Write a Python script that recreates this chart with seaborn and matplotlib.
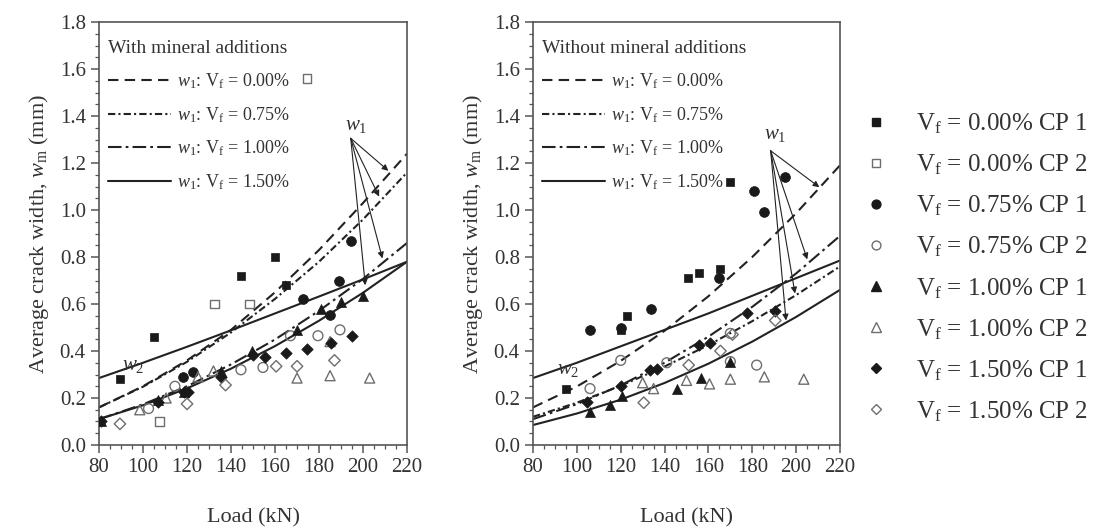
import matplotlib
matplotlib.use("Agg")
import matplotlib.pyplot as plt
import seaborn as sns
from matplotlib.lines import Line2D
from matplotlib.ticker import MultipleLocator, FormatStrFormatter

# model curves (read at every 20 kN)
load_grid = [80, 100, 120, 140, 160, 180, 200, 220]

w2_with = [0.285, 0.35, 0.418, 0.488, 0.56, 0.632, 0.705, 0.78]
w1_with_000 = [0.16, 0.25, 0.36, 0.49, 0.65, 0.83, 1.03, 1.24]
w1_with_075 = [0.16, 0.248, 0.354, 0.479, 0.622, 0.78, 0.96, 1.16]
w1_with_100 = [0.11, 0.173, 0.25, 0.343, 0.449, 0.571, 0.707, 0.86]
w1_with_150 = [0.11, 0.169, 0.241, 0.325, 0.421, 0.529, 0.648, 0.78]

w2_without = [0.285, 0.35, 0.42, 0.49, 0.56, 0.635, 0.71, 0.785]
w1_without_000 = [0.16, 0.249, 0.358, 0.486, 0.633, 0.80, 0.986, 1.19]
w1_without_075 = [0.12, 0.18, 0.252, 0.334, 0.425, 0.527, 0.638, 0.76]
w1_without_100 = [0.11, 0.174, 0.254, 0.35, 0.461, 0.588, 0.73, 0.89]
w1_without_150 = [0.085, 0.134, 0.193, 0.264, 0.346, 0.44, 0.545, 0.66]

# measured points, with mineral additions
with_000_cp1_x = [89.5, 105, 144.5, 160, 165]
with_000_cp1_y = [0.28, 0.46, 0.72, 0.80, 0.68]
with_000_cp2_x = [107.5, 132.5, 148.5, 174.5]
with_000_cp2_y = [0.10, 0.60, 0.60, 1.56]
with_075_cp1_x = [118, 122.5, 172.5, 185, 189, 194.5]
with_075_cp1_y = [0.29, 0.31, 0.62, 0.555, 0.70, 0.87]
with_075_cp2_x = [102.5, 114.5, 144.5, 154.5, 167, 179.5, 189.5]
with_075_cp2_y = [0.155, 0.25, 0.32, 0.33, 0.465, 0.465, 0.49]
with_100_cp1_x = [81, 107, 118.5, 135.5, 149.5, 170, 181, 190, 200]
with_100_cp1_y = [0.10, 0.19, 0.225, 0.315, 0.40, 0.49, 0.58, 0.61, 0.635]
with_100_cp2_x = [98.5, 110.5, 125, 132, 170, 185, 185, 203]
with_100_cp2_y = [0.15, 0.20, 0.29, 0.315, 0.285, 0.295, 0.44, 0.285]
with_150_cp1_x = [81, 107, 118.5, 120.5, 135.5, 150, 155.5, 165, 174.5, 185.5, 195]
with_150_cp1_y = [0.10, 0.185, 0.225, 0.225, 0.29, 0.385, 0.375, 0.39, 0.41, 0.435, 0.465]
with_150_cp2_x = [89.5, 120, 137.5, 160.5, 170, 187]
with_150_cp2_y = [0.09, 0.175, 0.255, 0.335, 0.335, 0.36]

# measured points, without mineral additions
without_000_cp1_x = [95, 120, 123, 150.5, 155.5, 165.5, 170]
without_000_cp1_y = [0.24, 0.49, 0.55, 0.71, 0.73, 0.75, 1.12]
without_000_cp2_x = []
without_000_cp2_y = []
without_075_cp1_x = [106, 120, 134, 165, 181, 185.5, 195]
without_075_cp1_y = [0.49, 0.50, 0.58, 0.71, 1.08, 0.99, 1.14]
without_075_cp2_x = [106, 120, 141, 170, 170, 182]
without_075_cp2_y = [0.24, 0.36, 0.35, 0.475, 0.355, 0.34]
without_100_cp1_x = [106, 115, 120.5, 145.5, 156.5, 170]
without_100_cp1_y = [0.14, 0.17, 0.21, 0.24, 0.285, 0.355]
without_100_cp2_x = [130, 135, 150, 160.5, 170, 185.5, 203.5]
without_100_cp2_y = [0.265, 0.24, 0.275, 0.26, 0.28, 0.29, 0.28]
without_150_cp1_x = [104.5, 120, 133.5, 136.5, 155.5, 160.5, 177.5, 190.5]
without_150_cp1_y = [0.185, 0.25, 0.32, 0.325, 0.425, 0.435, 0.56, 0.57]
without_150_cp2_x = [130.5, 151, 165.5, 171, 190.5]
without_150_cp2_y = [0.18, 0.34, 0.40, 0.47, 0.53]

series_labels = ["V$_\\mathrm{f}$ = 0.00% CP 1", "V$_\\mathrm{f}$ = 0.00% CP 2",
                 "V$_\\mathrm{f}$ = 0.75% CP 1", "V$_\\mathrm{f}$ = 0.75% CP 2",
                 "V$_\\mathrm{f}$ = 1.00% CP 1", "V$_\\mathrm{f}$ = 1.00% CP 2",
                 "V$_\\mathrm{f}$ = 1.50% CP 1", "V$_\\mathrm{f}$ = 1.50% CP 2"]
curve_labels = ["$w_1$: V$_\\mathrm{f}$ = 0.00%", "$w_1$: V$_\\mathrm{f}$ = 0.75%",
                "$w_1$: V$_\\mathrm{f}$ = 1.00%", "$w_1$: V$_\\mathrm{f}$ = 1.50%"]

BLACK = "#1a1a1a"
GRAY = "#6e6e6e"
LINE = "#222222"

# marker, filled?, size
marker_specs = [("s", True, 38), ("s", False, 38), ("o", True, 50), ("o", False, 50),
                ("^", True, 52), ("^", False, 52), ("D", True, 34), ("D", False, 34)]
line_styles = [(0, (5, 3)), (0, (3.5, 1.5, 1, 1.5)), (0, (6.5, 2, 1.3, 2)), "-"]

sns.set_style("ticks")
plt.rcParams['font.family'] = ['Liberation Serif', 'DejaVu Serif']
plt.rcParams['mathtext.fontset'] = 'custom'
plt.rcParams['mathtext.rm'] = 'Liberation Serif'
plt.rcParams['mathtext.it'] = 'Liberation Serif:italic'
plt.rcParams['axes.edgecolor'] = '#555555'
plt.rcParams['axes.linewidth'] = 1.2

fig = plt.figure(figsize=(10.99, 5.28), dpi=100)
ax_l = fig.add_axes([0.0901, 0.1572, 0.2803, 0.8011])
ax_r = fig.add_axes([0.485, 0.1572, 0.2793, 0.8011])


def draw_panel(ax, title, w2, w1_curves, points, arrow_origin, arrow_ends, w1_pos, w2_pos):
    sns.lineplot(x=load_grid, y=w2, ax=ax, color=LINE, linewidth=1.5, linestyle="-")
    for vals, ls in zip(w1_curves, line_styles):
        sns.lineplot(x=load_grid, y=vals, ax=ax, color=LINE, linewidth=1.5, linestyle=ls)

    for (xs, ys), (mk, filled, size) in zip(points, marker_specs):
        if not xs:
            continue
        if filled:
            sns.scatterplot(x=xs, y=ys, ax=ax, marker=mk, s=size, color=BLACK,
                            edgecolor=BLACK, linewidth=0.5, zorder=3)
        else:
            sns.scatterplot(x=xs, y=ys, ax=ax, marker=mk, s=size, facecolor="none",
                            edgecolor=GRAY, linewidth=1.0, zorder=3)

    for end in arrow_ends:
        ax.annotate("", xy=end, xytext=arrow_origin,
                    arrowprops=dict(arrowstyle="-|>", color=LINE, lw=0.8,
                                    shrinkA=0, shrinkB=0, mutation_scale=9))
    ax.text(w1_pos[0], w1_pos[1], "$w_1$", fontsize=15, ha="center", va="center", color="#333333")
    ax.text(w2_pos[0], w2_pos[1], "$w_2$", fontsize=15, ha="center", va="center", color="#333333")

    handles = [Line2D([], [], color=LINE, lw=1.5, linestyle=ls) for ls in line_styles]
    leg = ax.legend(handles, curve_labels, title=title, loc="upper left",
                    bbox_to_anchor=(-0.029, 1.0),
                    frameon=False, fontsize=13, title_fontsize=14, handlelength=3.5,
                    handletextpad=0.3, labelspacing=0.78, borderaxespad=0.6,
                    alignment="left")
    for t in leg.get_texts():
        t.set_color("#333333")
    leg.get_title().set_color("#333333")

    ax.set_xlim(80, 220)
    ax.set_ylim(0, 1.8)
    ax.xaxis.set_major_locator(MultipleLocator(20))
    ax.xaxis.set_minor_locator(MultipleLocator(5))
    ax.yaxis.set_major_locator(MultipleLocator(0.2))
    ax.yaxis.set_minor_locator(MultipleLocator(0.05))
    ax.yaxis.set_major_formatter(FormatStrFormatter("%.1f"))
    ax.tick_params(which="major", direction="out", length=6, width=1.1, labelsize=15,
                   colors="#555555", labelcolor="#333333")
    ax.tick_params(which="minor", direction="out", length=3, width=0.9, colors="#555555")
    ax.set_xlabel("Load (kN)", fontsize=16, color="#333333", labelpad=22)
    ax.set_ylabel("Average crack width, $w_\\mathrm{m}$ (mm)", fontsize=16,
                  color="#333333", labelpad=6)


points_with = [(with_000_cp1_x, with_000_cp1_y), (with_000_cp2_x, with_000_cp2_y),
               (with_075_cp1_x, with_075_cp1_y), (with_075_cp2_x, with_075_cp2_y),
               (with_100_cp1_x, with_100_cp1_y), (with_100_cp2_x, with_100_cp2_y),
               (with_150_cp1_x, with_150_cp1_y), (with_150_cp2_x, with_150_cp2_y)]
points_without = [(without_000_cp1_x, without_000_cp1_y), (without_000_cp2_x, without_000_cp2_y),
                  (without_075_cp1_x, without_075_cp1_y), (without_075_cp2_x, without_075_cp2_y),
                  (without_100_cp1_x, without_100_cp1_y), (without_100_cp2_x, without_100_cp2_y),
                  (without_150_cp1_x, without_150_cp1_y), (without_150_cp2_x, without_150_cp2_y)]

draw_panel(ax_l, "With mineral additions", w2_with,
           [w1_with_000, w1_with_075, w1_with_100, w1_with_150], points_with,
           (194.4, 1.305), [(211.5, 1.167), (207.3, 1.057), (208.8, 0.794), (201, 0.68)],
           (197, 1.36), (95.5, 0.34))
draw_panel(ax_r, "Without mineral additions", w2_without,
           [w1_without_000, w1_without_075, w1_without_100, w1_without_150], points_without,
           (188.4, 1.252), [(210.6, 1.097), (205.1, 0.79), (199.5, 0.645), (195.4, 0.53)],
           (190.5, 1.32), (96, 0.32))

# shared marker legend on the right
marker_handles = []
for mk, filled, size in marker_specs:
    ms = (size ** 0.5) * 0.9
    if filled:
        marker_handles.append(Line2D([], [], linestyle="none", marker=mk, markersize=ms,
                                     markerfacecolor=BLACK, markeredgecolor=BLACK))
    else:
        marker_handles.append(Line2D([], [], linestyle="none", marker=mk, markersize=ms,
                                     markerfacecolor="none", markeredgecolor=GRAY,
                                     markeredgewidth=1.0))
fleg = fig.legend(marker_handles, series_labels, loc="center left",
                  bbox_to_anchor=(0.765, 0.493), frameon=False, fontsize=18,
                  handlelength=1.0, handletextpad=1.1, labelspacing=0.66)
for t in fleg.get_texts():
    t.set_color("#333333")

fig.savefig("out.png", dpi=100)
